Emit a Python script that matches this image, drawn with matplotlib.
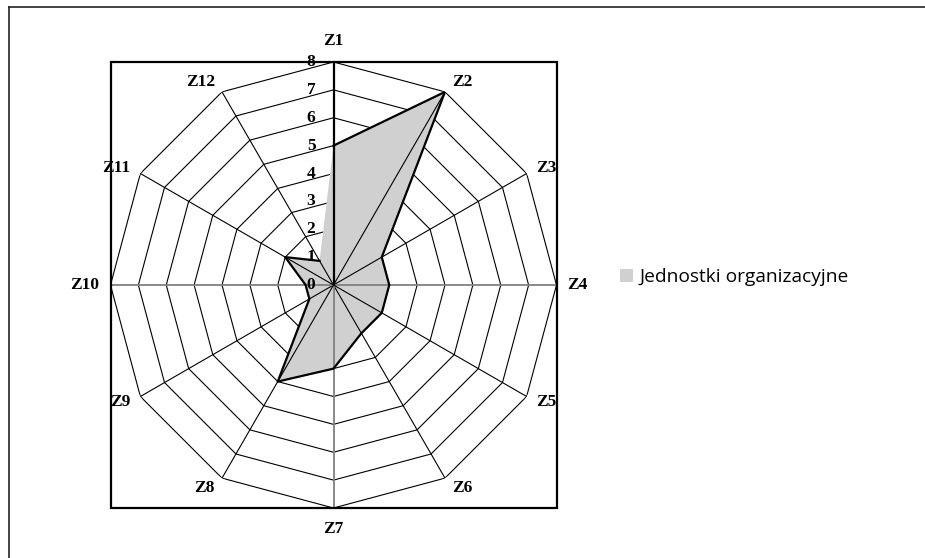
import numpy as np
import matplotlib.pyplot as plt
from matplotlib.patches import Rectangle
from matplotlib.lines import Line2D

categories = ["Z1", "Z2", "Z3", "Z4", "Z5", "Z6", "Z7", "Z8", "Z9", "Z10", "Z11", "Z12"]
values = [5, 8, 2, 2, 2, 2, 3, 4, 1, 1, 2, 1]
series_name = "Jednostki organizacyjne"
rticks = [0, 1, 2, 3, 4, 5, 6, 7, 8]
rmax = 8

serif = "Liberation Serif"
fill_col = "#d0d0d0"
px = 0.72  # points per pixel at dpi 100

fig = plt.figure(figsize=(9.25, 5.58), dpi=100)
ax = fig.add_axes([110.5 / 925, 50 / 558, 446 / 925, 446 / 558], projection="polar")
ax.set_theta_zero_location("N")
ax.set_theta_direction(-1)
ax.set_ylim(0, rmax)
ax.grid(False)
ax.set_xticks([])
ax.set_yticks([])
ax.spines["polar"].set_visible(False)
ax.patch.set_visible(False)

n = len(categories)
theta = np.arange(n) * 2 * np.pi / n
closed = np.append(theta, theta[0])

# polygon grid (under the fill)
for r in rticks[1:]:
    ax.plot(closed, [r] * (n + 1), color="black", lw=0.8, zorder=1)

# filled series
fill = ax.fill(closed, values + values[:1], color=fill_col, lw=0, zorder=2, label=series_name)[0]

# spokes (over the fill)
for i, t in enumerate(theta):
    if i == 0:
        ax.plot([t, t], [0, rmax], color="black", lw=1.6, zorder=4)
    elif i in (3, 6, 9):
        ax.plot([t, t], [0, rmax], color="#808080", lw=1.3, zorder=3)
    else:
        ax.plot([t, t], [0, rmax], color="black", lw=0.8, zorder=3)

# series outline
ax.plot(theta, values, color="black", lw=1.6, zorder=3.5)

# value labels along Z1
for r in rticks:
    ax.annotate(str(r), (0, r), xytext=(-13, 0), textcoords="offset points",
                ha="right", va="center", fontsize=12.5, fontweight="bold",
                family=serif, zorder=5)

# category labels next to the outer vertices
for t, c in zip(theta, categories):
    s, co = np.sin(t), np.cos(t)
    if abs(s) < 0.01:
        ha, dx, dy = "center", 0, 21 * co
    elif s > 0:
        ha, dx, dy = "left", 3 + 8 * s, 11 * co
    else:
        ha, dx, dy = "right", -(3 + 8 * abs(s)), 11 * co
    ax.annotate(c, (t, rmax), xytext=(dx * px, dy * px), textcoords="offset points",
                ha=ha, va="center", fontsize=12.5, fontweight="bold",
                family=serif, annotation_clip=False)

# square frame around plot area
ax.add_patch(Rectangle((0, 0), 1, 1, transform=ax.transAxes, fill=False,
                       ec="black", lw=1.6, clip_on=False, zorder=6))

# outer chart border (top and left visible)
fig.add_artist(Line2D([9 / 925, 1], [1 - 7 / 558, 1 - 7 / 558], color="#222222", lw=1.2))
fig.add_artist(Line2D([9 / 925, 9 / 925], [0, 1 - 7 / 558], color="#222222", lw=1.2))

fig.legend(handles=[fill], loc="center left", bbox_to_anchor=(610 / 925, 1 - 277 / 558),
           frameon=False, handlelength=0.7, handleheight=0.7, handletextpad=0.35,
           borderpad=0, prop={"family": "Open Sans", "size": 13.8})

fig.savefig("out.png", dpi=100)
